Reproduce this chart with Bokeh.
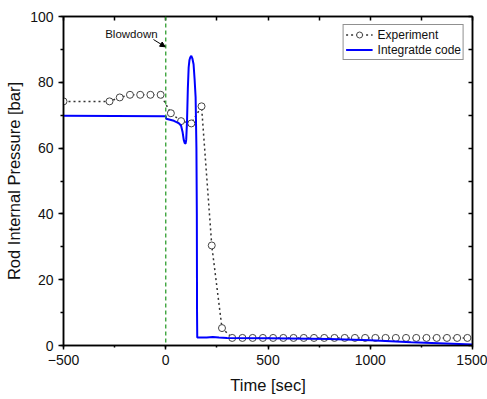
from bokeh.plotting import figure
from bokeh.models import (Range1d, SingleIntervalTicker, LinearAxis, Span, Label,
                          Arrow, NormalHead, Legend, LegendItem, CustomJSTickFormatter)
from bokeh.embed import file_html
from bokeh.resources import INLINE

# ---- data ----
exp_time = [-500, -275, -225, -175, -125, -75, -25, 25, 75, 125, 175, 225, 275,
            325, 375, 425, 475, 525, 575, 625, 675, 725, 775, 825, 875, 925, 975,
            1025, 1075, 1125, 1175, 1225, 1275, 1325, 1375, 1425, 1475]
exp_pressure = [74.2, 74.2, 75.4, 76.2, 76.2, 76.2, 76.2, 70.6, 68.2, 67.5, 72.7, 30.4, 5.3,
                2.3, 2.3, 2.3, 2.3, 2.3, 2.3, 2.3, 2.3, 2.3, 2.3, 2.3, 2.3, 2.3, 2.3,
                2.3, 2.3, 2.3, 2.3, 2.3, 2.3, 2.3, 2.3, 2.3, 2.3]

code_time = [-500, 0, 2, 40, 65, 75, 82, 88, 93, 97, 100, 104, 108, 112, 116, 120, 125,
             130, 136, 141, 146, 150, 152, 153, 154, 200, 230, 260, 300, 500, 800, 1000,
             1200, 1500]
code_pressure = [69.8, 69.7, 68.9, 68.3, 67.5, 66.8, 65.0, 62.5, 61.5, 61.4, 62.5, 68.0, 78.0,
                 84.5, 86.8, 87.6, 88.0, 87.3, 85.5, 81.0, 75.5, 60.0, 40.0, 10.0, 2.4, 2.4,
                 2.6, 2.4, 2.3, 2.2, 2.0, 1.6, 1.0, 0.3]

x_ticks_interval = 500
y_ticks_interval = 20
annotation_text = "Blowdown"
series_names = ["Experiment", "Integratde code"]

FONT = "Liberation Sans"

p = figure(width=487, height=399, output_backend="svg", toolbar_location=None,
           x_range=Range1d(-500, 1500), y_range=Range1d(0, 100),
           min_border_left=63, min_border_right=15, min_border_top=16, min_border_bottom=54)
p.grid.visible = False
p.outline_line_color = "black"
p.outline_line_width = 1.5
p.background_fill_color = "white"

# bottom / left axes
xa = p.xaxis[0]
xa.ticker = SingleIntervalTicker(interval=x_ticks_interval, num_minor_ticks=2)
ya = p.yaxis[0]
ya.ticker = SingleIntervalTicker(interval=y_ticks_interval, num_minor_ticks=2)
for ax in (xa, ya):
    ax.axis_line_width = 1.5
    ax.major_tick_line_width = 1.5
    ax.minor_tick_line_width = 1.5
    ax.major_tick_in = 0
    ax.minor_tick_in = 0
    ax.major_label_text_font = FONT
    ax.major_label_text_font_size = "14px"
    ax.major_label_text_color = "#111111"
    ax.axis_label_text_font = FONT
    ax.axis_label_text_font_size = "16.5px"
    ax.axis_label_text_font_style = "normal"
    ax.axis_label_text_color = "#111111"
    ax.major_label_standoff = 5
xa.major_tick_out = 4
xa.minor_tick_out = 2
ya.major_tick_out = 5
ya.minor_tick_out = 3
xa.axis_label = "Time [sec]"
ya.axis_label = "Rod Internal Pressure [bar]"
xa.axis_label_standoff = 8
ya.axis_label_standoff = 4

# mirrored top/right axes with inward ticks
empty = CustomJSTickFormatter(code="return ''")
top = LinearAxis(ticker=SingleIntervalTicker(interval=250, num_minor_ticks=0),
                 formatter=empty, major_label_text_font_size="0px",
                 major_tick_in=4, major_tick_out=0, major_label_standoff=0,
                 axis_line_width=1.5, major_tick_line_width=1.5)
right = LinearAxis(ticker=SingleIntervalTicker(interval=10, num_minor_ticks=0),
                   formatter=empty, major_label_text_font_size="0px",
                   major_tick_in=4, major_tick_out=0, major_label_standoff=0,
                   axis_line_width=1.5, major_tick_line_width=1.5)
p.add_layout(top, "above")
p.add_layout(right, "right")

# blowdown marker line
p.add_layout(Span(location=0, dimension="height", line_color="#2f9e2f",
                  line_width=1.3, line_dash="4 3"))

# series
exp_line = p.line(exp_time, exp_pressure, line_color="#333333", line_width=1.5,
                  line_dash="2 3")
exp_pts = p.scatter(exp_time, exp_pressure, marker="circle", size=7,
                    fill_color="white", line_color="#444444", line_width=1)
code_line = p.line(code_time, code_pressure, line_color="#0000ff", line_width=2)

# annotation
p.add_layout(Label(x=-168, y=94.8, text=annotation_text, text_align="center",
                   text_baseline="middle", text_font=FONT, text_font_size="11.5px",
                   text_color="#111111"))
p.add_layout(Arrow(end=NormalHead(size=5, fill_color="black", line_color="black"),
                   x_start=-60, y_start=93.0, x_end=-3, y_end=90.8,
                   line_color="black", line_width=1))

legend = Legend(items=[LegendItem(label=series_names[0], renderers=[exp_line, exp_pts]),
                       LegendItem(label=series_names[1], renderers=[code_line])],
                location="top_right", margin=8, padding=2, spacing=0,
                glyph_width=27, glyph_height=15, label_height=15, label_standoff=5,
                label_text_font=FONT, label_text_font_size="12px",
                label_text_color="#111111",
                border_line_color="#222222", border_line_width=1,
                background_fill_color="white", background_fill_alpha=1)
p.add_layout(legend)

open("out.html", "w").write(file_html(p, INLINE))
